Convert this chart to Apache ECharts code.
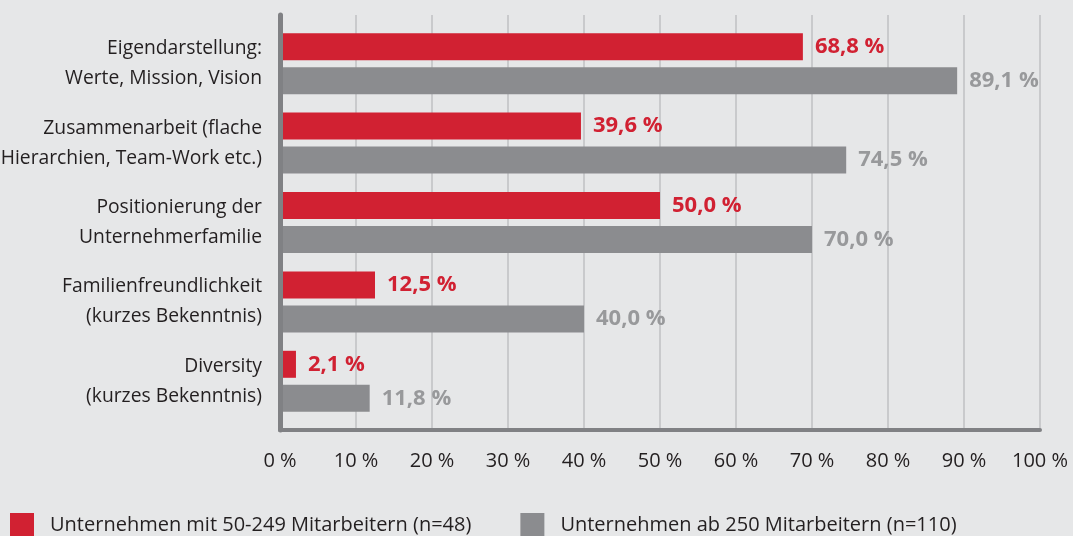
<!DOCTYPE html>
<html>
<head>
<meta charset="UTF-8">
<title></title>
<script src="https://cdn.jsdelivr.net/npm/echarts@6/dist/echarts.min.js"></script>
<style>
html, body { margin: 0; padding: 0; background: #e6e7e8; }
#chart { width: 1073px; height: 536px; }
</style>
</head>
<body>
<div id="chart"></div>
<script type="text/javascript">
var categories = [
	'Eigendarstellung:\nWerte, Mission, Vision',
	'Zusammenarbeit (flache\nHierarchien, Team-Work etc.)',
	'Positionierung der\nUnternehmerfamilie',
	'Familienfreundlichkeit\n(kurzes Bekenntnis)',
	'Diversity\n(kurzes Bekenntnis)'
];
var seriesNames = [
	'Unternehmen mit 50-249 Mitarbeitern (n=48)',
	'Unternehmen ab 250 Mitarbeitern (n=110)'
];
var smallFirms = [68.8, 39.6, 50.0, 12.5, 2.1];
var largeFirms = [89.1, 74.5, 70.0, 40.0, 11.8];

var font = 'Open Sans';
var red = '#d12132';
var grey = '#8b8c8f';

function pct(p) {
	return p.value.toFixed(1).replace('.', ',') + ' %';
}

var myChart = echarts.init(document.getElementById('chart'));
myChart.setOption({
	backgroundColor: '#e6e7e8',
	textStyle: { fontFamily: font },
	legend: {
		left: 10,
		top: 513,
		padding: 0,
		itemWidth: 24,
		itemHeight: 24,
		itemGap: 49,
		icon: 'rect',
		textStyle: { fontSize: 20, color: '#231f20', padding: [0, 0, 0, 11], fontFamily: font },
		data: seriesNames
	},
	grid: [
		// frame: gridlines and axis lines
		{ left: 280, right: 33, top: 15, bottom: 106, outerBoundsMode: 'none' },
		// bars
		{ left: 280, right: 33, top: 24, bottom: 115, outerBoundsMode: 'none' }
	],
	xAxis: [{
		gridIndex: 0,
		type: 'value',
		min: 0,
		max: 100,
		interval: 10,
		axisLine: { show: true, lineStyle: { color: '#808184', width: 4 } },
		axisTick: { show: false },
		axisLabel: { formatter: '{value} %', fontSize: 20, color: '#231f20', margin: 21, fontFamily: font },
		splitLine: { show: true, lineStyle: { color: '#c9cacc', width: 2 } }
	}, {
		gridIndex: 1,
		type: 'value',
		min: 0,
		max: 100,
		show: false
	}],
	yAxis: [{
		gridIndex: 0,
		type: 'value',
		min: 0,
		max: 1,
		z: 5,
		axisLine: { show: true, lineStyle: { color: '#808184', width: 5 } },
		axisTick: { show: false },
		axisLabel: { show: false },
		splitLine: { show: false }
	}, {
		gridIndex: 1,
		type: 'category',
		inverse: true,
		data: categories,
		axisLine: { show: false },
		axisTick: { show: false },
		axisLabel: { fontSize: 19.3, color: '#231f20', margin: 18, lineHeight: 30, align: 'right', fontFamily: font }
	}],
	series: [{
		name: seriesNames[0],
		type: 'bar',
		xAxisIndex: 1,
		yAxisIndex: 1,
		data: smallFirms,
		barWidth: 27,
		barGap: '26%',
		itemStyle: { color: red },
		label: { show: true, position: 'right', distance: 12, formatter: pct, color: red, fontWeight: 'bold', fontSize: 22, fontFamily: font }
	}, {
		name: seriesNames[1],
		type: 'bar',
		xAxisIndex: 1,
		yAxisIndex: 1,
		data: largeFirms,
		barWidth: 27,
		barGap: '26%',
		itemStyle: { color: grey },
		label: { show: true, position: 'right', distance: 12, formatter: pct, color: '#98999b', fontWeight: 'bold', fontSize: 22, fontFamily: font }
	}]
});
</script>
</body>
</html>
